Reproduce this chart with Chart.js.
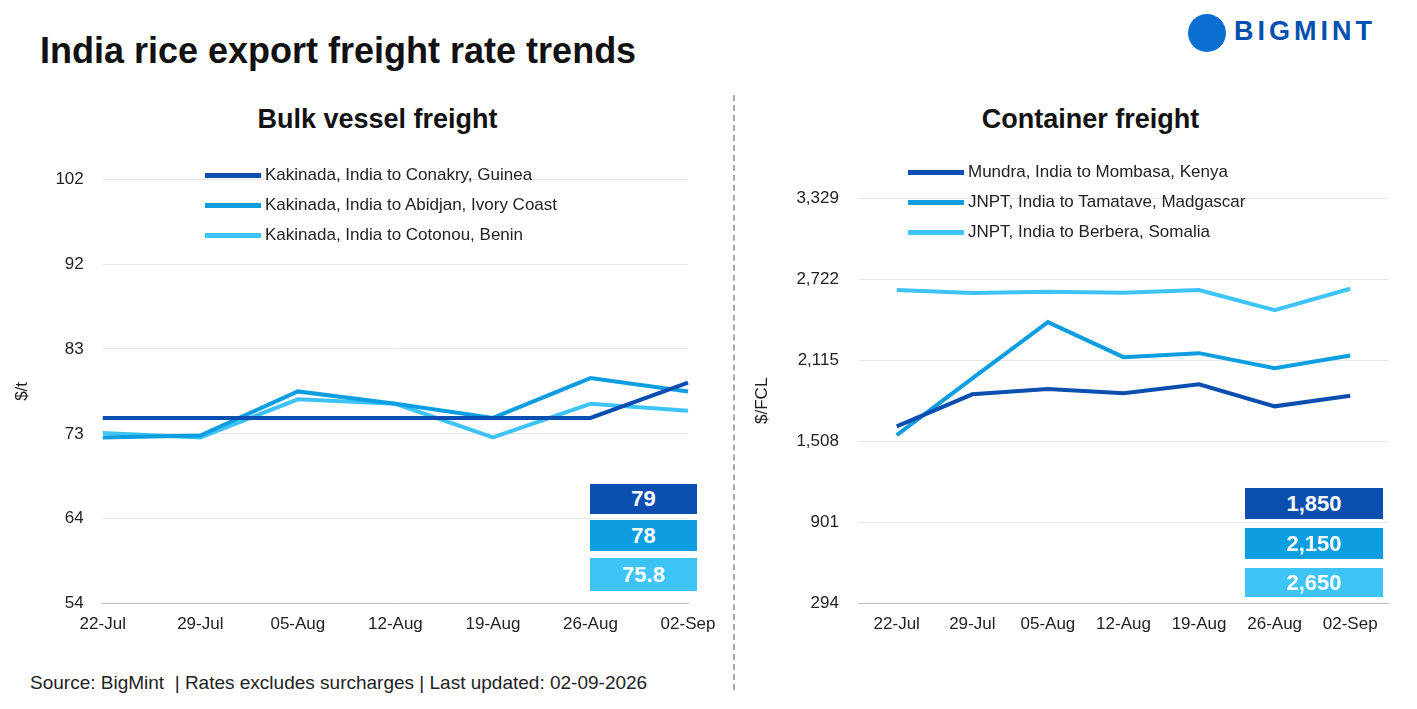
<!DOCTYPE html>
<html><head><meta charset="utf-8">
<script src="https://cdn.jsdelivr.net/npm/chart.js@4.4.1/dist/chart.umd.min.js"></script>
<style>
body{margin:0;width:1417px;height:709px;background:#fff;font-family:"Liberation Sans",Arial,sans-serif;position:relative;overflow:hidden}
.abs{position:absolute}
h1{position:absolute;left:40px;top:30px;margin:0;font-size:36px;font-weight:bold;color:#111}
.sub{font-size:27px;font-weight:bold;color:#111;text-align:center}
.leg{font-size:17px;color:#222;line-height:30px}
.leg span{display:inline-block;width:56px;height:5px;vertical-align:middle;margin-right:4px}
.box{color:#fff;font-weight:bold;font-size:22px;text-align:center}
</style></head><body>
<h1>India rice export freight rate trends</h1>
<div class="abs" style="left:1188px;top:14px;font-size:27px;font-weight:bold;color:#0050b0;letter-spacing:4px">
<span style="display:inline-block;width:38px;height:38px;border-radius:50%;background:#0a6fd0;vertical-align:middle;margin-right:8px"></span>BIGMINT</div>
<div class="abs sub" style="left:75px;width:605px;top:104px">Bulk vessel freight</div>
<div class="abs sub" style="left:868px;width:445px;top:104px">Container freight</div>
<div class="abs" style="left:733px;top:95px;height:595px;border-left:2px dashed #aaa"></div>
<div class="abs" style="left:30px;top:672px;font-size:19px;color:#222">Source: BigMint&nbsp; | Rates excludes surcharges | Last updated: 02-09-2026</div>
<div class="abs" style="left:0;top:150px;width:720px;height:495px"><canvas id="c1"></canvas></div>
<div class="abs" style="left:740px;top:150px;width:670px;height:495px"><canvas id="c2"></canvas></div>
<div id="overlay"></div>
<script>
const categories = ['22-Jul','29-Jul','05-Aug','12-Aug','19-Aug','26-Aug','02-Sep'];
const conakry = [75, 75, 75, 75, 75, 75, 79];
const abidjan = [72.8, 73, 78, 76.6, 75, 79.5, 78];
const cotonou = [73.3, 72.8, 77.1, 76.6, 72.8, 76.6, 75.8];
const bulkTicks = [54, 63.6, 73.2, 82.8, 92.4, 102];
const mombasa = [1620, 1860, 1900, 1868, 1935, 1770, 1850];
const tamatave = [1555, 1980, 2400, 2138, 2168, 2056, 2150];
const berbera = [2640, 2618, 2628, 2620, 2640, 2490, 2650];
const containerTicks = [294, 901, 1508, 2115, 2722, 3329];
const COLORS = ['#0a4fb0', '#0c9ee0', '#3ec3f7'];

function makeChart(id, series, ticks, title, pad, fmt, offset, tickPad) {
  new Chart(document.getElementById(id), {
    type: 'line',
    data: {
      labels: categories,
      datasets: series.map((d, i) => ({
        data: d, borderColor: COLORS[i], borderWidth: 4, pointRadius: 0, tension: 0,
      })),
    },
    options: {
      responsive: true, maintainAspectRatio: false, animation: false,
      layout: { padding: pad },
      plugins: { legend: { display: false }, tooltip: { enabled: false } },
      scales: {
        x: {
          offset,
          grid: { display: false },
          border: { color: '#bbb' },
          ticks: { color: '#222', font: { size: 17, family: 'Liberation Sans' }, maxRotation: 0 },
        },
        y: {
          min: ticks[0], max: ticks[ticks.length - 1],
          afterBuildTicks: (ax) => { ax.ticks = ticks.map((v) => ({ value: v })); },
          grid: { color: '#e4e4e4', drawTicks: false },
          border: { display: false },
          title: { display: true, text: title, color: '#222', font: { size: 17, family: 'Liberation Sans' } },
          ticks: { color: '#222', padding: tickPad, font: { size: 17, family: 'Liberation Sans' }, callback: fmt },
        },
      },
    },
  });
}
makeChart('c1', [conakry, abidjan, cotonou], bulkTicks, '$/t', { left: 8, right: 32, top: 14, bottom: 7 },
  (v) => Math.round(v), false, 19);
makeChart('c2', [mombasa, tamatave, berbera], containerTicks, '$/FCL', { left: 8, right: 22, top: 48, bottom: 7 },
  (v) => v.toLocaleString('en-US'), true, 20);

const ov = document.getElementById('overlay');
function legend(x, y, names) {
  ov.insertAdjacentHTML('beforeend', `<div class="abs leg" style="left:${x}px;top:${y}px">` +
    names.map((n, i) => `<div><span style="background:${COLORS[i]}"></span>${n}</div>`).join('') + '</div>');
}
legend(205, 160, ['Kakinada, India to Conakry, Guinea', 'Kakinada, India to Abidjan, Ivory Coast', 'Kakinada, India to Cotonou, Benin']);
legend(908, 157, ['Mundra, India to Mombasa, Kenya', 'JNPT, India to Tamatave, Madgascar', 'JNPT, India to Berbera, Somalia']);
function box(x, y, w, h, color, txt) {
  ov.insertAdjacentHTML('beforeend', `<div class="abs box" style="left:${x}px;top:${y}px;width:${w}px;height:${h}px;line-height:${h}px;background:${color}">${txt}</div>`);
}
box(590, 484, 107, 30, COLORS[0], conakry[6]);
box(590, 520, 107, 31, COLORS[1], abidjan[6]);
box(590, 558, 107, 33, COLORS[2], cotonou[6]);
box(1245, 488, 138, 31, COLORS[0], mombasa[6].toLocaleString('en-US'));
box(1245, 528, 138, 31, COLORS[1], tamatave[6].toLocaleString('en-US'));
box(1245, 568, 138, 29, COLORS[2], berbera[6].toLocaleString('en-US'));
</script>
</body></html>
